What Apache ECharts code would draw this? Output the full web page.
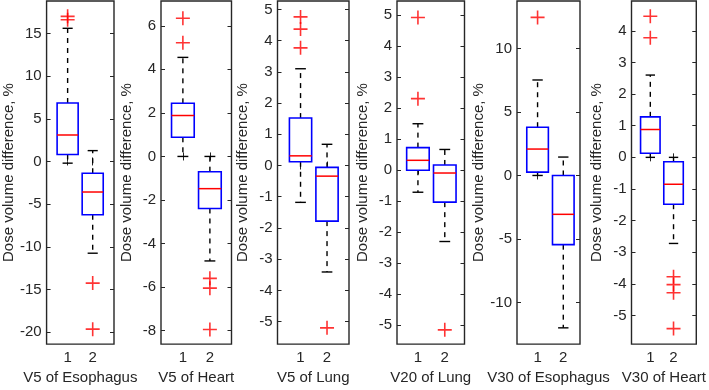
<!DOCTYPE html>
<html>
<head>
<meta charset="utf-8">
<script src="https://cdn.jsdelivr.net/npm/echarts@6/dist/echarts.min.js"></script>
<style>
    html, body {margin: 0; padding: 0; background: #fff;}
    #chart {width: 709px; height: 390px;}
</style>
</head>
<body>
<div id="chart"></div>
<script>
// ---- data ----
const panelNames = ['V5 of Esophagus', 'V5 of Heart', 'V5 of Lung', 'V20 of Lung', 'V30 of Esophagus', 'V30 of Heart'];
const groupTicks = [1, 2];

// [lower whisker, Q1, median, Q3, upper whisker]
const group1Stats = [
    [-0.2, 0.82, 3.1, 6.85, 15.6],
    [0.0, 0.88, 1.88, 2.44, 4.55],
    [-1.18, 0.12, 0.31, 1.52, 3.1],
    [-0.71, 0.0, 0.32, 0.73, 1.5],
    [0.0, 0.26, 2.08, 3.8, 7.52],
    [0.0, 0.13, 0.88, 1.28, 2.6]
];
const group2Stats = [
    [-10.75, -6.25, -3.58, -1.38, 1.27],
    [-4.8, -2.39, -1.48, -0.7, 0.0],
    [-3.41, -1.78, -0.34, -0.06, 0.68],
    [-2.3, -1.03, -0.09, 0.17, 0.67],
    [-12.0, -5.45, -3.06, 0.0, 1.45],
    [-2.72, -1.48, -0.85, -0.14, 0.0]
];
const group1Outliers = [
    [16.6, 17.0],
    [5.22, 6.35],
    [3.77, 4.37, 4.76],
    [2.31, 4.93],
    [12.45],
    [3.78, 4.46]
];
const group2Outliers = [
    [-14.25, -19.65],
    [-5.6, -6.05, -7.95],
    [-5.2],
    [-5.15],
    [],
    [-3.77, -4.02, -4.28, -5.41]
];
const yTicks = [
    [-20, -15, -10, -5, 0, 5, 10, 15],
    [-8, -6, -4, -2, 0, 2, 4, 6],
    [-5, -4, -3, -2, -1, 0, 1, 2, 3, 4, 5],
    [-5, -4, -3, -2, -1, 0, 1, 2, 3, 4, 5],
    [-10, -5, 0, 5, 10],
    [-5, -4, -3, -2, -1, 0, 1, 2, 3, 4]
];
const yRanges = [
    [-21.4, 18.8],
    [-8.62, 7.14],
    [-5.72, 5.27],
    [-5.61, 5.46],
    [-13.28, 13.74],
    [-5.9, 4.94]
];

// ---- layout (px) ----
const panelBoxes = [
    {left: 42, width: 72, xMin: 0.16, xMax: 2.85},
    {left: 161, width: 70.5, xMin: 0.19, xMax: 2.80},
    {left: 277.5, width: 71.5, xMin: 0.13, xMax: 2.83},
    {left: 397, width: 67.5, xMin: 0.22, xMax: 2.735},
    {left: 517, width: 63, xMin: 0.2, xMax: 2.65},
    {left: 631.5, width: 72.8, xMin: 0.19, xMax: 2.98}
];

const ink = '#262626';
const font = 'Liberation Sans, Arial, Helvetica, sans-serif';
const plusPath = 'path://M6.2,0H7.8V6.2H14V7.8H7.8V14H6.2V7.8H0V6.2H6.2Z';

const renderBox = (params, api) => {
    const x = api.value(0);
    const lo = api.coord([x, api.value(1)]);
    const q1 = api.coord([x, api.value(2)]);
    const med = api.coord([x, api.value(3)]);
    const q3 = api.coord([x, api.value(4)]);
    const hi = api.coord([x, api.value(5)]);
    const half = api.size([0.84, 0])[0] / 2;
    const cap = half * 0.48;
    const cx = q1[0];
    const dash = {stroke: '#000', lineWidth: 1.4, lineDash: [5, 5]};
    const solid = {stroke: '#000', lineWidth: 1.4};
    return {
        type: 'group',
        children: [
            {type: 'line', shape: {x1: cx, y1: q3[1], x2: cx, y2: hi[1]}, style: dash},
            {type: 'line', shape: {x1: cx, y1: q1[1], x2: cx, y2: lo[1]}, style: dash},
            {type: 'line', shape: {x1: cx - cap, y1: hi[1], x2: cx + cap, y2: hi[1]}, style: solid},
            {type: 'line', shape: {x1: cx - cap, y1: lo[1], x2: cx + cap, y2: lo[1]}, style: solid},
            {
                type: 'rect',
                shape: {x: cx - half, y: q3[1], width: half * 2, height: q1[1] - q3[1]},
                style: {fill: '#fff', stroke: '#0000ff', lineWidth: 1.6}
            },
            {type: 'line', shape: {x1: cx - half, y1: med[1], x2: cx + half, y2: med[1]}, style: {stroke: '#ff0000', lineWidth: 1.5}}
        ]
    };
};

const grid = [];
const xAxis = [];
const yAxis = [];
const series = [];

panelNames.map((name, i) => {
    const box = panelBoxes[i];
    grid.push({
        left: box.left, top: 1, width: box.width, height: 347,
        show: true, borderColor: ink, borderWidth: 1.4, backgroundColor: '#fff'
    });
    const tickStyle = {show: true, inside: true, length: 4, lineStyle: {color: ink, width: 1}};
    xAxis.push({
        type: 'value', gridIndex: i, min: box.xMin, max: box.xMax,
        axisLine: {show: false}, splitLine: {show: false},
        axisTick: {...tickStyle, customValues: groupTicks},
        axisLabel: {customValues: groupTicks, margin: 6, fontSize: 15, color: ink, fontFamily: font},
        name: name, nameLocation: 'middle', nameGap: 25,
        nameTextStyle: {fontSize: 15, color: ink, fontFamily: font}
    });
    xAxis.push({
        type: 'value', gridIndex: i, position: 'top', min: box.xMin, max: box.xMax,
        axisLine: {show: false}, splitLine: {show: false},
        axisTick: {...tickStyle, customValues: groupTicks},
        axisLabel: {show: false}
    });
    yAxis.push({
        type: 'value', gridIndex: i, min: yRanges[i][0], max: yRanges[i][1],
        axisLine: {show: false}, splitLine: {show: false},
        axisTick: {...tickStyle, customValues: yTicks[i]},
        axisLabel: {customValues: yTicks[i], margin: 5, fontSize: 15, color: ink, fontFamily: font},
        name: 'Dose volume difference, %', nameLocation: 'middle', nameGap: 27,
        nameTextStyle: {fontSize: 15, color: ink, fontFamily: font}
    });
    yAxis.push({
        type: 'value', gridIndex: i, position: 'right', min: yRanges[i][0], max: yRanges[i][1],
        axisLine: {show: false}, splitLine: {show: false},
        axisTick: {...tickStyle, customValues: yTicks[i]},
        axisLabel: {show: false}
    });

    series.push({
        type: 'custom',
        xAxisIndex: i * 2, yAxisIndex: i * 2,
        renderItem: renderBox,
        encode: {x: 0, y: [1, 2, 3, 4, 5]},
        data: [
            [groupTicks[0], ...group1Stats[i]],
            [groupTicks[1], ...group2Stats[i]]
        ],
        silent: true
    });

    const outliers = [];
    group1Outliers[i].map(v => outliers.push([groupTicks[0], v]));
    group2Outliers[i].map(v => outliers.push([groupTicks[1], v]));
    series.push({
        type: 'scatter',
        xAxisIndex: i * 2, yAxisIndex: i * 2,
        symbol: plusPath, symbolSize: 14,
        itemStyle: {color: '#ff0000'},
        data: outliers,
        silent: true
    });
});

const myChart = echarts.init(document.getElementById('chart'), null, {renderer: 'canvas'});
myChart.setOption({
    animation: false,
    textStyle: {fontFamily: font},
    grid: grid,
    xAxis: xAxis,
    yAxis: yAxis,
    series: series
});
</script>
</body>
</html>
